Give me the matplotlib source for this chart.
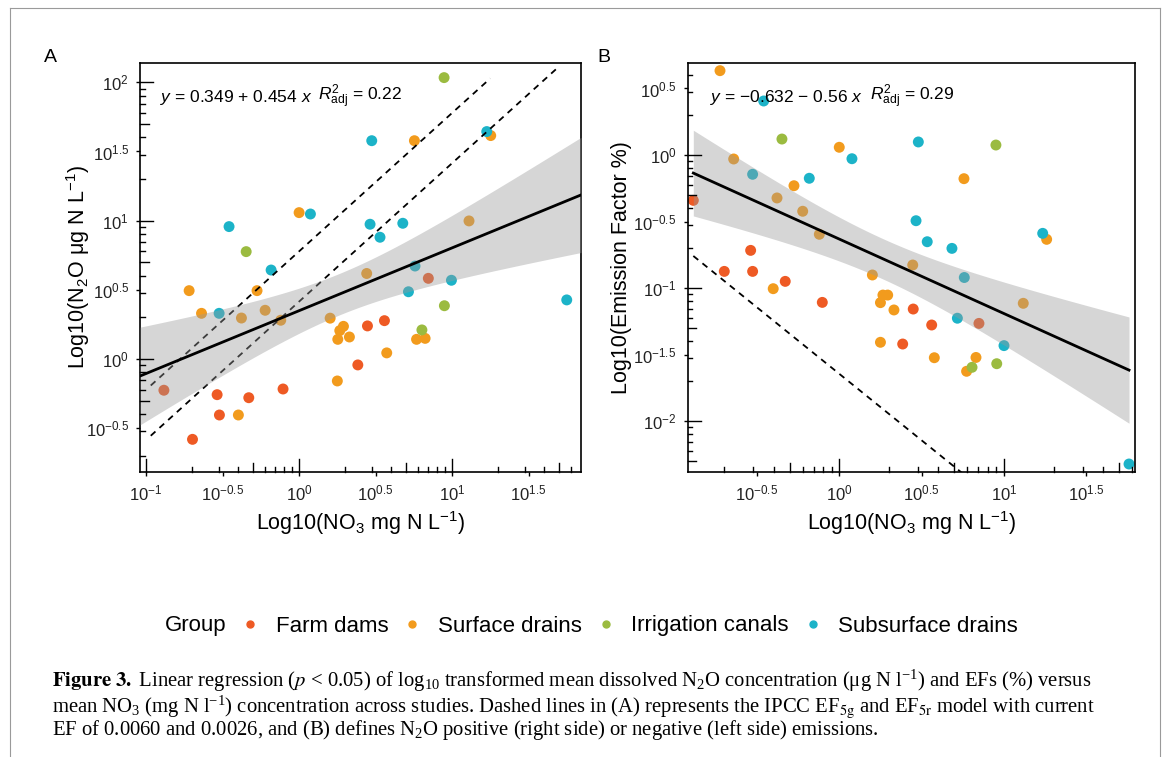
import matplotlib
matplotlib.use("Agg")
import matplotlib.pyplot as plt
import numpy as np
from matplotlib.lines import Line2D

plt.rcParams["font.family"] = ["Liberation Sans", "DejaVu Sans"]
plt.rcParams["mathtext.fontset"] = "custom"
plt.rcParams["mathtext.rm"] = "Liberation Sans"
plt.rcParams["mathtext.it"] = "Liberation Sans:italic"
plt.rcParams["mathtext.bf"] = "Liberation Sans:bold"
plt.rcParams["mathtext.default"] = "regular"

# ---- data (log10 units) ----
GROUPS = ["Farm dams", "Surface drains", "Irrigation canals", "Subsurface drains"]
COLORS = ["#EE5A24", "#F29B1D", "#9BBB40", "#1CB3C8"]

# Panel A: log10 NO3 (mg N/L) vs log10 N2O (ug N/L)
farm_x_a = [-0.884, -0.536, -0.329, -0.105, -0.521, -0.697, 0.845, 0.447, 0.558, 0.384]
farm_y_a = [-0.226, -0.258, -0.280, -0.217, -0.405, -0.581, 0.583, 0.239, 0.277, -0.043]
surface_x_a = [0.000, 0.754, 1.253, 1.111, 0.442, -0.719, -0.275, -0.638, -0.377, -0.222, -0.120,
               -0.397, 0.203, 0.290, 0.266, 0.253, 0.329, 0.768, 0.824, 0.573, 0.250]
surface_y_a = [1.058, 1.578, 1.615, 0.998, 0.618, 0.494, 0.494, 0.330, 0.296, 0.352, 0.280,
               -0.405, 0.295, 0.236, 0.205, 0.142, 0.159, 0.142, 0.149, 0.044, -0.159]
canal_x_a = [-0.346, 0.948, 0.950, 0.803]
canal_y_a = [0.776, 2.034, 0.385, 0.210]
subsurface_x_a = [-0.458, -0.183, 0.074, 0.475, 1.227, 0.464, 0.678, 0.529, 0.758, 0.996, -0.523, 0.715, 1.750]
subsurface_y_a = [0.957, 0.643, 1.048, 1.578, 1.644, 0.974, 0.981, 0.880, 0.672, 0.569, 0.330, 0.486, 0.427]

# Panel B: log10 NO3 (mg N/L) vs log10 emission factor (%)
farm_x_b = [-0.886, -0.538, -0.698, -0.526, -0.328, -0.103, 0.449, 0.561, 0.848, 0.385]
farm_y_b = [-0.341, -0.717, -0.875, -0.875, -0.950, -1.108, -1.158, -1.278, -1.266, -1.421]
surface_x_b = [-0.724, 0.000, -0.641, -0.275, -0.378, -0.222, -0.121, 0.201, 0.757, 1.259, 0.446,
               -0.401, 0.250, 0.250, 1.117, 0.265, 0.294, 0.332, 0.577, 0.830, 0.773]
surface_y_b = [0.634, 0.058, -0.030, -0.231, -0.323, -0.423, -0.596, -0.902, -0.178, -0.634, -0.827,
               -1.005, -1.110, -1.408, -1.115, -1.053, -1.053, -1.165, -1.524, -1.522, -1.626]
canal_x_b = [-0.348, 0.951, 0.806, 0.956]
canal_y_b = [0.120, 0.075, -1.596, -1.569]
subsurface_x_b = [-0.459, 0.077, -0.526, -0.182, 0.480, 0.466, 1.235, 0.534, 0.684, 0.759, 0.717, 1.000, 1.759]
subsurface_y_b = [0.406, -0.028, -0.145, -0.175, 0.098, -0.494, -0.589, -0.652, -0.702, -0.921, -1.227, -1.433, -2.323]

# fitted models reported on the figure
FIT_A = (0.349, 0.454)
FIT_B = (-0.632, -0.56)
T_CRIT = 2.013          # t(0.975, df = n - 2)
IPCC_EF = [0.0060, 0.0026]
IPCC_X_START = -0.97
IPCC_X_END = [1.25, 1.68]
ZERO_EMISSION_INTERCEPT = -1.645

X_TICKS_A = [-1, -0.5, 0, 0.5, 1, 1.5]
Y_TICKS_A = [-0.5, 0, 0.5, 1, 1.5, 2]
X_TICKS_B = [-0.5, 0, 0.5, 1, 1.5]
Y_TICKS_B = [-2, -1.5, -1, -0.5, 0, 0.5]

FIG_W, FIG_H, DPI = 11.68, 7.57, 100


def pow_label(v):
    return f"$10^{{{v:g}}}$"


def conf_band(x, y, coef, grid):
    x = np.asarray(x)
    y = np.asarray(y)
    b0, b1 = coef
    n = len(x)
    resid = y - (b0 + b1 * x)
    s = np.sqrt(np.sum(resid ** 2) / (n - 2))
    sxx = np.sum((x - x.mean()) ** 2)
    hw = T_CRIT * s * np.sqrt(1.0 / n + (grid - x.mean()) ** 2 / sxx)
    fit = b0 + b1 * grid
    return fit - hw, fit + hw


def logticks(ax):
    # annotation_logticks-style marks on bottom and left, drawn inward
    bb = ax.get_position()
    w_px = bb.width * FIG_W * DPI
    h_px = bb.height * FIG_H * DPI
    lengths = {1: 13.0, 5: 8.5}
    x0, x1 = ax.get_xlim()
    y0, y1 = ax.get_ylim()
    for d in range(-4, 4):
        for m in range(1, 10):
            pos = d + np.log10(m)
            L = lengths.get(m, 4.5)
            if x0 <= pos <= x1:
                ax.plot([pos, pos], [0, L / h_px], color="black", lw=1.0,
                        transform=ax.get_xaxis_transform(), clip_on=False, zorder=6)
            if y0 <= pos <= y1:
                ax.plot([0, L / w_px], [pos, pos], color="black", lw=1.0,
                        transform=ax.get_yaxis_transform(), clip_on=False, zorder=6)


def style_axes(ax, xticks, yticks, xlim, ylim):
    ax.set_xlim(*xlim)
    ax.set_ylim(*ylim)
    ax.set_xticks(xticks)
    ax.set_xticklabels([pow_label(v) for v in xticks])
    ax.set_yticks(yticks)
    ax.set_yticklabels([pow_label(v) for v in yticks])
    ax.tick_params(direction="out", length=3, width=1.0, labelsize=12,
                   labelcolor="#222222", pad=5)
    for sp in ax.spines.values():
        sp.set_linewidth(1.2)
        sp.set_color("black")


fig = plt.figure(figsize=(FIG_W, FIG_H), dpi=DPI)
ax_a = fig.add_axes([0.1199, 0.3765, 0.3775, 0.5407])
ax_b = fig.add_axes([0.5888, 0.3765, 0.3829, 0.5407])

panel_a = [(farm_x_a, farm_y_a), (surface_x_a, surface_y_a),
           (canal_x_a, canal_y_a), (subsurface_x_a, subsurface_y_a)]
panel_b = [(farm_x_b, farm_y_b), (surface_x_b, surface_y_b),
           (canal_x_b, canal_y_b), (subsurface_x_b, subsurface_y_b)]

xlim_a, ylim_a = (-1.04, 1.843), (-0.817, 2.142)
xlim_b, ylim_b = (-0.92, 1.795), (-2.383, 0.694)

# ---- Panel A ----
for (xs, ys), col in zip(panel_a, COLORS):
    ax_a.scatter(xs, ys, s=62, color=col, edgecolors="none", zorder=2)
for ef, xe in zip(IPCC_EF, IPCC_X_END):
    xx = np.array([IPCC_X_START, xe])
    ax_a.plot(xx, np.log10(ef * 1000) + xx, color="black", lw=1.3,
              ls=(0, (3.5, 3)), zorder=3)
all_xa = np.concatenate([p[0] for p in panel_a])
all_ya = np.concatenate([p[1] for p in panel_a])
grid_a = np.linspace(*xlim_a, 200)
lo, hi = conf_band(all_xa, all_ya, FIT_A, grid_a)
ax_a.fill_between(grid_a, lo, hi, color="#999999", alpha=0.4, lw=0, zorder=4)
ax_a.plot(grid_a, FIT_A[0] + FIT_A[1] * grid_a, color="black", lw=2.0, zorder=5)
style_axes(ax_a, X_TICKS_A, Y_TICKS_A, xlim_a, ylim_a)
ax_a.text(0.045, 0.916, r"$\mathit{y}$ = 0.349 + 0.454 $\mathit{x}$", transform=ax_a.transAxes,
          fontsize=12.5, va="center", ha="left")
ax_a.text(0.404, 0.916, r"$\mathit{R}_{\mathrm{adj}}^{2}$ = 0.22", transform=ax_a.transAxes,
          fontsize=12.5, va="center", ha="left")
ax_a.set_xlabel(r"Log10(NO$_3$ mg N L$^{-1}$)", fontsize=15.5)
ax_a.set_ylabel(r"Log10(N$_2$O μg N L$^{-1}$)", fontsize=15.5)
ax_a.xaxis.set_label_coords(0.5, -0.09)
ax_a.yaxis.set_label_coords(-0.11, 0.5)

# ---- Panel B ----
for (xs, ys), col in zip(panel_b, COLORS):
    ax_b.scatter(xs, ys, s=62, color=col, edgecolors="none", zorder=2, clip_on=False)
all_xb = np.concatenate([p[0] for p in panel_b])
all_yb = np.concatenate([p[1] for p in panel_b])
xx = np.array([all_xb.min(), all_xb.max()])
ax_b.plot(xx, ZERO_EMISSION_INTERCEPT - xx, color="black", lw=1.3,
          ls=(0, (3.5, 3)), zorder=3)
grid_b = np.linspace(all_xb.min(), all_xb.max(), 200)
lo, hi = conf_band(all_xb, all_yb, FIT_B, grid_b)
ax_b.fill_between(grid_b, lo, hi, color="#999999", alpha=0.4, lw=0, zorder=4)
ax_b.plot(grid_b, FIT_B[0] + FIT_B[1] * grid_b, color="black", lw=2.0, zorder=5)
style_axes(ax_b, X_TICKS_B, Y_TICKS_B, xlim_b, ylim_b)
ax_b.text(0.05, 0.916, r"$\mathit{y}$ = −0.632 − 0.56 $\mathit{x}$", transform=ax_b.transAxes,
          fontsize=12.5, va="center", ha="left")
ax_b.text(0.407, 0.916, r"$\mathit{R}_{\mathrm{adj}}^{2}$ = 0.29", transform=ax_b.transAxes,
          fontsize=12.5, va="center", ha="left")
ax_b.set_xlabel(r"Log10(NO$_3$ mg N L$^{-1}$)", fontsize=15.5)
ax_b.set_ylabel("Log10(Emission Factor %)", fontsize=15.5)
ax_b.xaxis.set_label_coords(0.5, -0.09)
ax_b.yaxis.set_label_coords(-0.125, 0.5)

logticks(ax_a)
logticks(ax_b)

fig.text(50 / 1168, 1 - 57 / 757, "A", fontsize=14, ha="center", va="center")
fig.text(604 / 1168, 1 - 57 / 757, "B", fontsize=14, ha="center", va="center")

# ---- legend ----
handles = [Line2D([], [], marker="o", ls="", color=c, markersize=5) for c in COLORS]
fig.legend(handles, GROUPS, ncol=4, loc="center left",
           bbox_to_anchor=(239 / 1168, 1 - 626 / 757), frameon=False, fontsize=16,
           handletextpad=0.65, columnspacing=0.58, handlelength=1.0, borderpad=0,
           borderaxespad=0)
fig.text(165 / 1168, 1 - 626 / 757, "Group", fontsize=16, ha="left", va="center")

# ---- caption ----
cap_kw = dict(fontsize=14.9, family="Liberation Serif", math_fontfamily="stix",
              ha="left", va="baseline")
fig.text(52 / 1168, 1 - 686.5 / 757,
         r"$\mathbf{Figure\ 3.}$ Linear regression ($\mathit{p}$ < 0.05) of log$_{10}$ transformed mean "
         r"dissolved N$_2$O concentration ($\mu$g N l$^{-1}$) and EFs (%) versus", **cap_kw)
fig.text(52 / 1168, 1 - 712 / 757,
         r"mean NO$_3$ (mg N l$^{-1}$) concentration across studies. Dashed lines in (A) represents "
         r"the IPCC EF$_{\mathrm{5g}}$ and EF$_{\mathrm{5r}}$ model with current", **cap_kw)
fig.text(52 / 1168, 1 - 735.5 / 757,
         r"EF of 0.0060 and 0.0026, and (B) defines N$_2$O positive (right side) or negative "
         r"(left side) emissions.", **cap_kw)

# journal figure frame
frame = dict(color="#9a9a9a", lw=0.8)
fig.add_artist(Line2D([10 / 1168, 10 / 1168], [0, 1 - 8 / 757], **frame))
fig.add_artist(Line2D([10 / 1168, 1160 / 1168], [1 - 8 / 757, 1 - 8 / 757], **frame))
fig.add_artist(Line2D([1160 / 1168, 1160 / 1168], [0, 1 - 8 / 757], **frame))

fig.savefig("out.png", dpi=DPI)
